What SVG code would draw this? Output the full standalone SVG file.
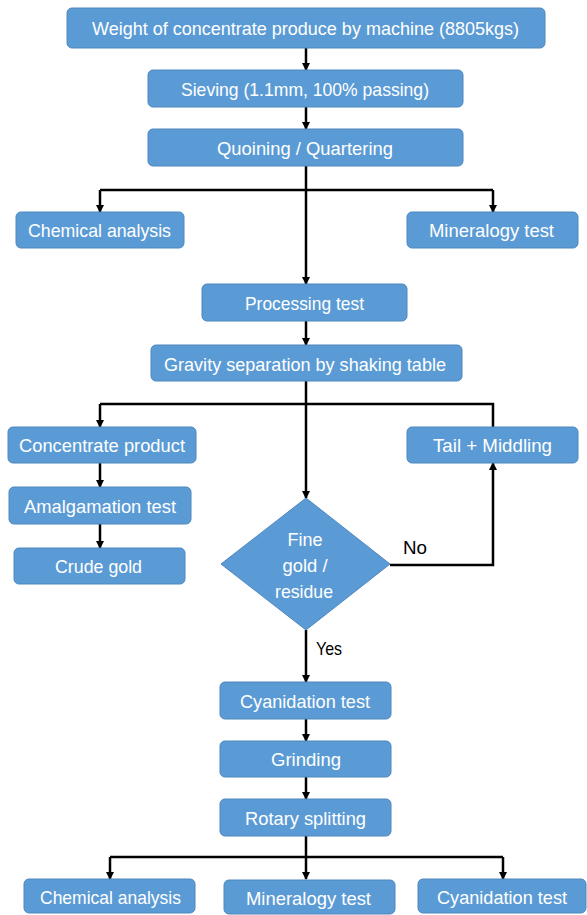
<svg xmlns="http://www.w3.org/2000/svg" width="587" height="915" viewBox="0 0 587 915">
<style>
.box{fill:#5B9BD5;stroke:#4F87BD;stroke-width:1}
.t{fill:#ffffff;font-family:"Liberation Sans",Arial,sans-serif;font-size:19px;text-anchor:middle}
.lbl{fill:#000000;font-family:"Liberation Sans",Arial,sans-serif;font-size:19px}
.c{fill:none;stroke:#000000;stroke-width:2.5}
</style>
<defs>
<marker id="ah" markerWidth="8" markerHeight="8" refX="7" refY="4" orient="auto" markerUnits="userSpaceOnUse">
<path d="M0,0 L8,4 L0,8 z" fill="#000000"/>
</marker>
</defs>
<rect width="587" height="915" fill="#ffffff"/>
<g id="connectors">
<path class="c" d="M306,48 V70" marker-end="url(#ah)"/>
<path class="c" d="M306,107 V129" marker-end="url(#ah)"/>
<path class="c" d="M306,166 V284" marker-end="url(#ah)"/>
<path class="c" d="M100,190 H493"/>
<path class="c" d="M100,190 V212" marker-end="url(#ah)"/>
<path class="c" d="M493,190 V212" marker-end="url(#ah)"/>
<path class="c" d="M306,321 V345" marker-end="url(#ah)"/>
<path class="c" d="M306,381 V498" marker-end="url(#ah)"/>
<path class="c" d="M100,404 H493 V427"/>
<path class="c" d="M100,404 V427" marker-end="url(#ah)"/>
<path class="c" d="M100,463 V487" marker-end="url(#ah)"/>
<path class="c" d="M100,524 V548" marker-end="url(#ah)"/>
<path class="c" d="M390,565 H493 V463" marker-end="url(#ah)"/>
<path class="c" d="M306,630 V682" marker-end="url(#ah)"/>
<path class="c" d="M306,719 V741" marker-end="url(#ah)"/>
<path class="c" d="M306,777 V799" marker-end="url(#ah)"/>
<path class="c" d="M306,836 V879" marker-end="url(#ah)"/>
<path class="c" d="M110,857 H503"/>
<path class="c" d="M110,857 V879" marker-end="url(#ah)"/>
<path class="c" d="M503,857 V879" marker-end="url(#ah)"/>
<text class="lbl" x="403" y="554" textLength="24" lengthAdjust="spacingAndGlyphs">No</text>
<text class="lbl" x="316" y="655" textLength="26" lengthAdjust="spacingAndGlyphs">Yes</text>
</g>
<g id="weight"><rect class="box" x="67" y="8" width="478" height="40" rx="5"/><text class="t" x="305.5" y="35" textLength="427" lengthAdjust="spacingAndGlyphs">Weight of concentrate produce by machine (8805kgs)</text></g>
<g id="sieving"><rect class="box" x="148" y="70" width="315" height="37" rx="5"/><text class="t" x="305" y="96" textLength="248" lengthAdjust="spacingAndGlyphs">Sieving (1.1mm, 100% passing)</text></g>
<g id="quoining"><rect class="box" x="148" y="129" width="315" height="37" rx="5"/><text class="t" x="305" y="155" textLength="176" lengthAdjust="spacingAndGlyphs">Quoining / Quartering</text></g>
<g id="chem1"><rect class="box" x="16" y="212" width="168" height="36" rx="5"/><text class="t" x="99.5" y="237" textLength="143" lengthAdjust="spacingAndGlyphs">Chemical analysis</text></g>
<g id="min1"><rect class="box" x="407" y="212" width="171" height="36" rx="5"/><text class="t" x="491.5" y="237" textLength="125" lengthAdjust="spacingAndGlyphs">Mineralogy test</text></g>
<g id="processing"><rect class="box" x="202" y="284" width="205" height="37" rx="5"/><text class="t" x="304.5" y="310" textLength="119" lengthAdjust="spacingAndGlyphs">Processing test</text></g>
<g id="gravity"><rect class="box" x="151" y="345" width="311" height="36" rx="5"/><text class="t" x="305" y="371" textLength="282" lengthAdjust="spacingAndGlyphs">Gravity separation by shaking table</text></g>
<g id="concentrate"><rect class="box" x="8" y="427" width="188" height="36" rx="5"/><text class="t" x="102" y="452" textLength="166" lengthAdjust="spacingAndGlyphs">Concentrate product</text></g>
<g id="tail"><rect class="box" x="407" y="427" width="171" height="36" rx="5"/><text class="t" x="492.5" y="452" textLength="119" lengthAdjust="spacingAndGlyphs">Tail + Middling</text></g>
<g id="amalgamation"><rect class="box" x="9" y="487" width="182" height="37" rx="5"/><text class="t" x="100" y="513" textLength="152" lengthAdjust="spacingAndGlyphs">Amalgamation test</text></g>
<g id="crude"><rect class="box" x="14" y="548" width="171" height="36" rx="5"/><text class="t" x="98.5" y="573" textLength="87" lengthAdjust="spacingAndGlyphs">Crude gold</text></g>
<g id="decision"><polygon class="box" points="306,498 390,564 306,630 221,564"/>
<text class="t" x="305" y="546" textLength="35" lengthAdjust="spacingAndGlyphs">Fine</text>
<text class="t" x="305" y="572" textLength="45" lengthAdjust="spacingAndGlyphs">gold /</text>
<text class="t" x="304" y="598" textLength="58" lengthAdjust="spacingAndGlyphs">residue</text></g>
<g id="cyanidation"><rect class="box" x="220" y="682" width="171" height="37" rx="5"/><text class="t" x="305" y="708" textLength="130" lengthAdjust="spacingAndGlyphs">Cyanidation test</text></g>
<g id="grinding"><rect class="box" x="220" y="741" width="171" height="36" rx="5"/><text class="t" x="306" y="766" textLength="70" lengthAdjust="spacingAndGlyphs">Grinding</text></g>
<g id="rotary"><rect class="box" x="220" y="799" width="171" height="37" rx="5"/><text class="t" x="305.5" y="825" textLength="121" lengthAdjust="spacingAndGlyphs">Rotary splitting</text></g>
<g id="chem2"><rect class="box" x="24" y="879" width="171" height="34" rx="5"/><text class="t" x="110.5" y="904" textLength="141" lengthAdjust="spacingAndGlyphs">Chemical analysis</text></g>
<g id="min2"><rect class="box" x="224" y="880" width="171" height="34" rx="5"/><text class="t" x="308.5" y="905" textLength="125" lengthAdjust="spacingAndGlyphs">Mineralogy test</text></g>
<g id="cyan2"><rect class="box" x="418" y="879" width="168" height="34" rx="5"/><text class="t" x="502" y="904" textLength="130" lengthAdjust="spacingAndGlyphs">Cyanidation test</text></g>
</svg>
